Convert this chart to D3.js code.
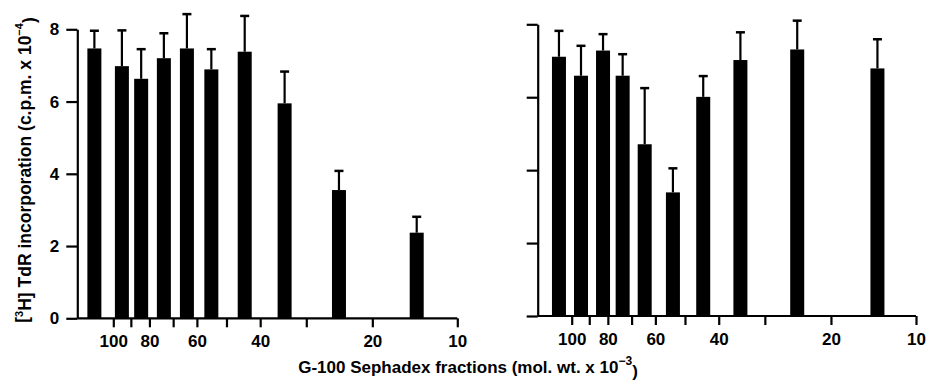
<!DOCTYPE html>
<html>
<head>
<meta charset="utf-8">
<script src="https://cdn.jsdelivr.net/npm/d3@7"></script>
<style>
  html, body { margin: 0; padding: 0; background: #fff; }
  svg { display: block; }
  text { font-family: "Liberation Sans", Arial, sans-serif; font-weight: bold; fill: #000; }
</style>
</head>
<body>
<svg id="chart" width="928" height="382"></svg>
<script>
// ---- Data ----
// Molecular-weight calibration of the G-100 Sephadex column (mol. wt. x 10^-3)
const mwTicks = [100, 90, 80, 70, 60, 50, 40, 30, 20, 10];
// relative elution position (0 = 100 kDa, 100 = 10 kDa) of each calibration mark
const mwElution = [0, 5.1, 10.5, 17.4, 24.3, 32.9, 42.7, 56.1, 75.3, 100];
const mwLabelled = [100, 80, 60, 40, 20, 10];
const yTicks = [0, 2, 4, 6, 8];

// Left panel: fraction elution positions, mean and mean+SE (c.p.m. x 10^-4)
const leftElution = [-5.5, 2.5, 8.1, 14.7, 21.4, 28.5, 38.2, 49.8, 65.6, 88.2];
const leftMean    = [7.47, 6.98, 6.63, 7.20, 7.47, 6.89, 7.38, 5.95, 3.55, 2.37];
const leftUpper   = [7.96, 7.97, 7.45, 7.89, 8.42, 7.45, 8.37, 6.83, 4.08, 2.81];

// Right panel
const rightElution = [-3.7, 2.7, 9.1, 14.8, 21.2, 29.4, 38.2, 49.0, 65.5, 88.8];
const rightMean    = [7.11, 6.59, 7.28, 6.59, 4.71, 3.39, 6.01, 7.02, 7.31, 6.79];
const rightUpper   = [7.82, 7.41, 7.73, 7.18, 6.25, 4.05, 6.58, 7.78, 8.10, 7.59];

// ---- Layout ----
const svg = d3.select("#chart");
const panels = [
  { axisX: 77.3, x100: 113.3, x10: 457.3, y0: 318.3, y8: 29.3, showY: true,
    pos: leftElution, mean: leftMean, upper: leftUpper },
  { axisX: 537.7, x100: 571.7, x10: 916, y0: 316, y8: 24.3, showY: false,
    pos: rightElution, mean: rightMean, upper: rightUpper }
];
const barW = 14;
const capW = 9;
const tickLen = 11;

panels.forEach(p => {
  const g = svg.append("g");
  const x = d3.scaleLinear().domain([0, 100]).range([p.x100, p.x10]);
  const y = d3.scaleLinear().domain([0, 8]).range([p.y0, p.y8]);

  // bars
  const data = p.pos.map((e, i) => ({ e, m: p.mean[i], u: p.upper[i] }));
  g.selectAll("rect.bar").data(data).join("rect")
    .attr("class", "bar")
    .attr("x", d => x(d.e) - barW / 2)
    .attr("width", barW)
    .attr("y", d => y(d.m))
    .attr("height", d => y(0) - y(d.m))
    .attr("fill", "#000");

  // error bars
  g.selectAll("line.err").data(data).join("line")
    .attr("class", "err")
    .attr("x1", d => x(d.e)).attr("x2", d => x(d.e))
    .attr("y1", d => y(d.m)).attr("y2", d => y(d.u))
    .attr("stroke", "#000").attr("stroke-width", 2.2);
  g.selectAll("line.cap").data(data).join("line")
    .attr("class", "cap")
    .attr("x1", d => x(d.e) - capW / 2).attr("x2", d => x(d.e) + capW / 2)
    .attr("y1", d => y(d.u)).attr("y2", d => y(d.u))
    .attr("stroke", "#000").attr("stroke-width", 2.5);

  // y axis
  const yAxis = d3.axisLeft(y).tickValues(yTicks).tickSize(tickLen).tickSizeOuter(0)
    .tickPadding(7)
    .tickFormat(d => p.showY ? d : "");
  const ga = g.append("g").attr("transform", `translate(${p.axisX},0)`).call(yAxis);
  ga.selectAll("path, line").attr("stroke", "#000").attr("stroke-width", 2.2);
  ga.selectAll("text").style("font-size", "17px").attr("font-family", null);

  // x axis baseline
  g.append("line")
    .attr("x1", p.axisX).attr("x2", p.x10)
    .attr("y1", y(0)).attr("y2", y(0))
    .attr("stroke", "#000").attr("stroke-width", 2.2);

  const xAxis = d3.axisBottom(x).tickValues(mwElution).tickSize(9).tickSizeOuter(0)
    .tickPadding(8)
    .tickFormat((d, i) => mwLabelled.includes(mwTicks[i]) ? mwTicks[i] : "");
  const gx = g.append("g").attr("transform", `translate(0,${y(0)})`).call(xAxis);
  gx.select(".domain").remove();
  gx.selectAll("line").attr("stroke", "#000").attr("stroke-width", 2.2);
  gx.selectAll("text").style("font-size", "17px").attr("font-family", null);
});

// y axis title
const yt = svg.append("text")
  .attr("transform", "translate(28,170) rotate(-90)")
  .attr("text-anchor", "middle")
  .style("font-size", "17.5px");
yt.append("tspan").text("[");
yt.append("tspan").text("3").style("font-size", "11px").attr("dy", "-0.45em");
yt.append("tspan").text("H] TdR incorporation (c.p.m. x 10").attr("dy", "0.45em");
yt.append("tspan").text("−4").style("font-size", "11px").attr("dy", "-0.7em");
yt.append("tspan").text(")").attr("dy", "0.7em");

// x axis title
const xt = svg.append("text")
  .attr("x", 468).attr("y", 373)
  .attr("text-anchor", "middle")
  .style("font-size", "17px");
xt.append("tspan").text("G-100 Sephadex fractions (mol. wt. x 10");
xt.append("tspan").text("−3").style("font-size", "12px").attr("dy", "-0.7em");
xt.append("tspan").text(")").attr("dy", "0.7em");
</script>
</body>
</html>
